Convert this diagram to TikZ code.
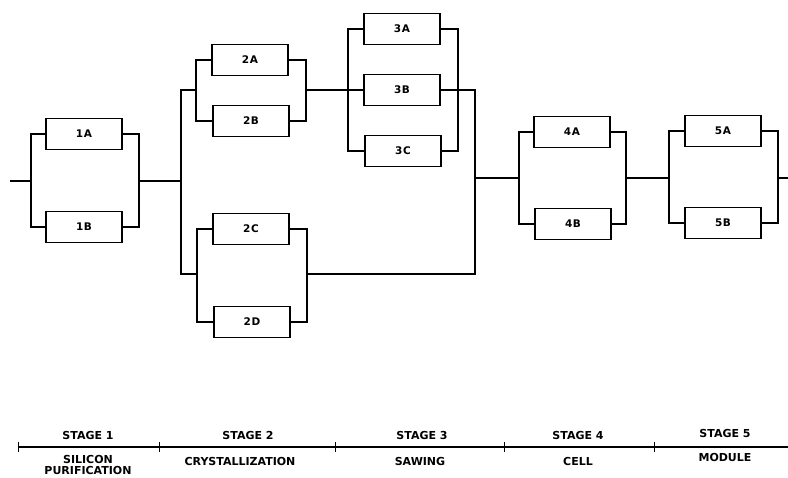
\documentclass[tikz,border=0pt]{standalone}
\usepackage{fontspec}
\newfontfamily\stagefont{DejaVu Sans}
\newfontfamily\unitfont{DejaVu Sans}[LetterSpace=6]
\begin{document}
\begin{tikzpicture}[x=1pt,y=-1pt,line width=1.6pt,
  unit/.style={draw,line width=1.4pt,minimum width=76pt,minimum height=31pt,inner sep=0pt,font=\unitfont\bfseries\fontsize{10.5}{11}\selectfont},
  stagelbl/.style={font=\stagefont\bfseries\fontsize{11}{11.5}\selectfont,align=center}]
\useasboundingbox (0,0) rectangle (788,478);
% stage 1
\node[unit] (1A) at (84,134) {1A};
\node[unit] (1B) at (84,227) {1B};
\coordinate (in) at (10,181);
\coordinate (s1in) at (31,181);
\coordinate (s1out) at (139,181);
\draw (in) -- (s1in);
\draw (1A.west) -| (s1in) |- (1B.west);
\draw (1A.east) -| (s1out) |- (1B.east);
% stage 2
\node[unit] (2A) at (250,60) {2A};
\node[unit] (2B) at (251,121) {2B};
\node[unit] (2C) at (251,229) {2C};
\node[unit] (2D) at (252,322) {2D};
\coordinate (s2in) at (181,181);
\coordinate (s2abin) at (196,90);
\coordinate (s2about) at (306,90);
\coordinate (s2cdin) at (197,274);
\coordinate (s2cdout) at (307,274);
\draw (s1out) -- (s2in);
\draw (s2abin) -- (s2abin -| s2in) -- (s2cdin -| s2in) -- (s2cdin);
\draw (2A.west) -| (s2abin) |- (2B.west);
\draw (2A.east) -| (s2about) |- (2B.east);
\draw (2C.west) -| (s2cdin) |- (2D.west);
\draw (2C.east) -| (s2cdout) |- (2D.east);
% stage 3
\node[unit] (3A) at (402,29) {3A};
\node[unit] (3B) at (402,90) {3B};
\node[unit] (3C) at (403,151) {3C};
\coordinate (s3in) at (348,90);
\coordinate (s3out) at (458,90);
\coordinate (s3join) at (475,178);
\draw (s2about) -- (3B.west);
\draw (3A.west) -| (s3in) |- (3C.west);
\draw (3A.east) -| (s3out) |- (3C.east);
\draw (3B.east) -| (s3join);
\draw (s2cdout) -| (s3join);
% stage 4
\node[unit] (4A) at (572,132) {4A};
\node[unit] (4B) at (573,224) {4B};
\coordinate (s4in) at (519,178);
\coordinate (s4out) at (626,178);
\draw (s3join) -- (s4in);
\draw (4A.west) -| (s4in) |- (4B.west);
\draw (4A.east) -| (s4out) |- (4B.east);
% stage 5
\node[unit] (5A) at (723,131) {5A};
\node[unit] (5B) at (723,223) {5B};
\coordinate (s5in) at (669,178);
\coordinate (s5out) at (778,178);
\coordinate (out) at (788,178);
\draw (s4out) -- (s5in);
\draw (5A.west) -| (s5in) |- (5B.west);
\draw (5A.east) -| (s5out) |- (5B.east);
\draw (s5out) -- (out);
% stage scale
\coordinate (axl) at (18,447);
\coordinate (axr) at (788,447);
\draw (axl) -- (axr);
\foreach \t in {18,159,335,504,654}
  \draw[line width=0.9pt] (\t,442) -- (\t,452);
\node[stagelbl] (st1) at (88,435) {STAGE 1};
\node[stagelbl] (st2) at (248,435) {STAGE 2};
\node[stagelbl] (st3) at (422,435) {STAGE 3};
\node[stagelbl] (st4) at (578,435) {STAGE 4};
\node[stagelbl] (st5) at (725,433) {STAGE 5};
\node[stagelbl] (d1) at (88,465) {SILICON\\PURIFICATION};
\node[stagelbl] (d2) at (240,461) {CRYSTALLIZATION};
\node[stagelbl] (d3) at (420,461) {SAWING};
\node[stagelbl] (d4) at (578,461) {CELL};
\node[stagelbl] (d5) at (725,457) {MODULE};
\end{tikzpicture}
\end{document}
